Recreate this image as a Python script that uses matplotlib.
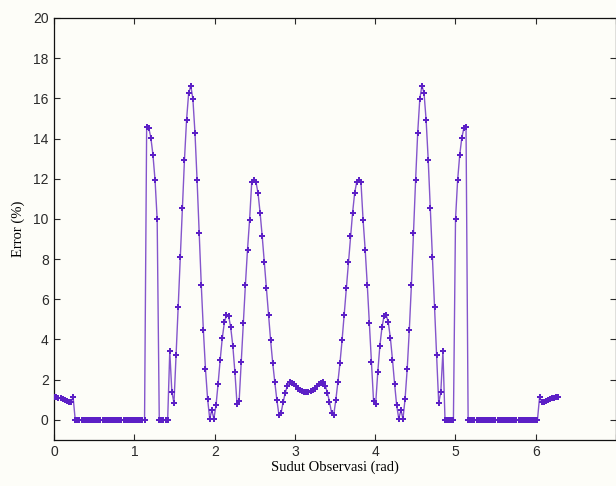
import matplotlib
matplotlib.use("Agg")
import matplotlib.pyplot as plt
import numpy as np

# sudut observasi (derajat), langkah 1.5 derajat, 0..360
sudut_deg = np.arange(0, 360.1, 1.5)

# error (%), setengah kiri (0..180 derajat)
err_kiri = [
    1.13, 1.12, 1.10, 1.06, 1.02, 0.97, 0.92, 0.89, 0.90, 1.12,
    0.0, 0.0, 0.0, 0.0, 0.0, 0.0, 0.0, 0.0, 0.0, 0.0,
    0.0, 0.0, 0.0, 0.0, 0.0, 0.0, 0.0, 0.0, 0.0, 0.0,
    0.0, 0.0, 0.0, 0.0, 0.0, 0.0, 0.0, 0.0, 0.0, 0.0,
    0.0, 0.0, 0.0, 0.0,
    14.57, 14.53, 14.04, 13.18, 11.92, 9.99,
    0.0, 0.0, 0.0, 0.0, 0.0,
    3.40, 1.38, 0.83, 3.20, 5.61, 8.10, 10.56, 12.95, 14.94, 16.27,
    16.63, 15.97, 14.28, 11.92, 9.30, 6.69, 4.45, 2.52, 1.05, 0.05,
    0.47, 0.05, 0.71, 1.79, 2.99, 4.07, 4.85, 5.21, 5.18, 4.60,
    3.69, 2.37, 0.80, 0.91, 2.87, 4.81, 6.72, 8.47, 9.96, 11.82,
    11.92, 11.85, 11.29, 10.29, 9.13, 7.83, 6.54, 5.23, 3.95, 2.82,
    1.86, 0.96, 0.22, 0.35, 0.90, 1.35, 1.70, 1.86, 1.85, 1.77,
    1.66, 1.55, 1.47, 1.42, 1.40, 1.39,
]

# setengah kanan (181.5..360 derajat)
err_kanan = [
    1.40, 1.42, 1.47, 1.55, 1.66,
    1.77, 1.85, 1.86, 1.70, 1.35, 0.90, 0.35, 0.22, 0.96, 1.86,
    2.82, 3.95, 5.23, 6.54, 7.83, 9.13, 10.29, 11.29, 11.85, 11.92,
    11.82, 9.96, 8.47, 6.72, 4.81, 2.87, 0.91, 0.80, 2.37, 3.69,
    4.60, 5.18, 5.21, 4.85, 4.07, 2.99, 1.79, 0.71, 0.05, 0.47,
    0.05, 1.05, 2.52, 4.45, 6.69, 9.30, 11.92, 14.28, 15.97, 16.63,
    16.27, 14.94, 12.95, 10.56, 8.10, 5.61, 3.20, 0.83, 1.38, 3.40,
    0.0, 0.0, 0.0, 0.0, 0.0,
    9.99, 11.92, 13.18, 14.04, 14.53, 14.57,
    0.0, 0.0, 0.0, 0.0, 0.0, 0.0, 0.0, 0.0, 0.0, 0.0,
    0.0, 0.0, 0.0, 0.0, 0.0, 0.0, 0.0, 0.0, 0.0, 0.0,
    0.0, 0.0, 0.0, 0.0, 0.0, 0.0, 0.0, 0.0, 0.0, 0.0,
    0.0, 0.0, 0.0, 0.0,
    1.12, 0.90, 0.89, 0.92, 0.97, 1.02, 1.06, 1.10, 1.12, 1.13,
]

error = np.array(err_kiri + err_kanan)
sudut_rad = np.deg2rad(sudut_deg)

x_ticks = [0, 1, 2, 3, 4, 5, 6, 7]
x_labels = ['0', '1', '2', '3', '4', '5', '6', '']  # label 7 terpotong di tepi
y_ticks = [0, 2, 4, 6, 8, 10, 12, 14, 16, 18, 20]

fig = plt.figure(figsize=(6.16, 4.86), dpi=100)
fig.patch.set_facecolor('#fdfdf8')
ax = fig.add_axes([0.088, 0.095, 0.912, 0.868])
ax.set_facecolor('#fdfdf8')

ax.plot(sudut_rad, error, color='#8455cc', linewidth=1.0, zorder=2)
ax.plot(sudut_rad, error, linestyle='none', marker='P', markersize=4.2,
        color='#5c20c6', markeredgewidth=0, zorder=3)

ax.set_xlim(0, 7)
ax.set_ylim(-1, 20)
ax.set_xticks(x_ticks)
ax.set_xticklabels(x_labels)
ax.set_yticks(y_ticks)

ax.tick_params(direction='in', top=True, right=True, length=4, width=0.8,
               labelsize=10, colors='#2a2a2a', pad=4)
for lbl in ax.get_xticklabels() + ax.get_yticklabels():
    lbl.set_family('Liberation Sans')
for s in ax.spines.values():
    s.set_linewidth(0.9)
    s.set_color('#111111')

ax.set_xlabel('Sudut Observasi (rad)', fontsize=10.5, family='Liberation Serif', labelpad=1)
ax.set_ylabel('Error (%)', fontsize=10.5, family='Liberation Serif', labelpad=6)

plt.savefig('out.png', dpi=100, facecolor=fig.get_facecolor())
plt.close()
